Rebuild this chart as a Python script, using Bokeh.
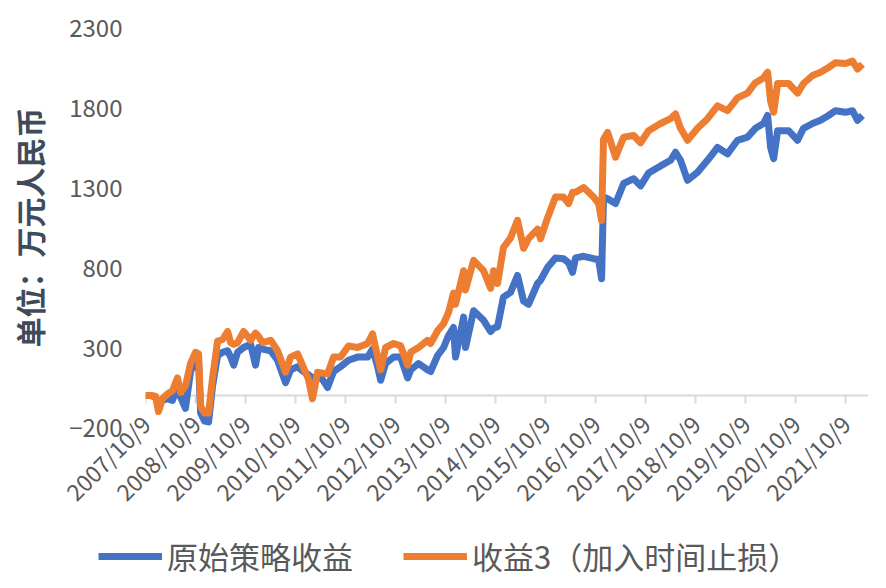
import pandas as pd
from math import pi
from bokeh.plotting import figure
from bokeh.layouts import column
from bokeh.models import (FixedTicker, CustomJSTickFormatter, Span, Legend,
                          LegendItem, ColumnDataSource, Range1d)
from bokeh.embed import file_html
from bokeh.resources import INLINE

dates = ["2007-10-09","2007-11-14","2007-12-21","2008-01-12","2008-02-10","2008-03-18","2008-04-23","2008-05-30","2008-06-21","2008-07-27","2008-09-02",
         "2008-10-09","2008-10-31","2008-11-15","2008-12-14","2009-01-12","2009-02-10","2009-03-19","2009-04-24","2009-05-31","2009-06-22","2009-07-14","2009-08-12","2009-09-25",
         "2009-11-15","2009-12-21","2010-01-12","2010-02-10","2010-04-10","2010-05-31","2010-07-28","2010-09-03",
         "2010-10-24","2010-12-06","2011-01-12","2011-02-10","2011-03-19","2011-04-24","2011-05-31","2011-07-14","2011-09-03",
         "2011-10-31","2012-01-05","2012-03-19","2012-04-24","2012-05-31","2012-06-22","2012-07-28","2012-09-25",
         "2012-11-15","2013-01-05","2013-01-27","2013-03-26","2013-05-31","2013-06-22","2013-08-12","2013-09-25",
         "2013-10-31","2013-12-06","2013-12-21","2014-02-18","2014-03-04","2014-05-02","2014-07-14","2014-09-03","2014-09-25",
         "2014-10-24","2014-12-06","2015-01-27","2015-03-19","2015-05-02","2015-06-07","2015-08-12","2015-09-03",
         "2015-10-24","2015-12-21","2016-02-18","2016-03-26","2016-04-24","2016-05-16","2016-07-14","2016-09-25",
         "2016-10-31","2016-11-22","2016-12-06","2017-01-05","2017-03-04","2017-05-02","2017-07-14","2017-09-03",
         "2017-10-31","2018-01-27","2018-04-10","2018-05-16","2018-06-22","2018-08-12",
         "2018-10-24","2019-01-05","2019-03-19","2019-05-31","2019-08-12",
         "2019-10-24","2019-12-21","2020-02-18","2020-03-19","2020-04-10","2020-05-02","2020-05-31","2020-08-19",
         "2020-10-24","2020-12-06","2021-02-10","2021-04-10","2021-06-07","2021-07-28",
         "2021-10-09","2021-11-29","2022-01-05","2022-02-10"]

original = [0, 0, -10, -60, -30, -20, -30, 60, -10, -80, 150,
            220, 200, -110, -160, -165, 60, 250, 270, 280, 240, 190, 270, 300,
            320, 190, 300, 290, 280, 220, 80, 160,
            180, 150, 130, 110, 120, 100, 50, 150, 180,
            220, 240, 240, 290, 180, 95, 200, 240,
            240, 110, 160, 200, 160, 150, 250, 300,
            375, 425, 240, 490, 300, 530, 470, 400, 420,
            430, 615, 645, 750, 590, 570, 700, 720,
            800, 860, 855, 830, 770, 860, 870, 855,
            850, 730, 1240, 1230, 1200, 1325, 1355, 1310,
            1390, 1435, 1470, 1520, 1470, 1345,
            1395, 1470, 1550, 1510, 1595,
            1615, 1670, 1700, 1750, 1550, 1480, 1655, 1655,
            1595, 1670, 1700, 1720, 1750, 1780,
            1770, 1780, 1720, 1750]

stoploss3 = [0, 0, -5, -100, -20, 10, 30, 110, 20, 60, 200,
             270, 260, -70, -110, -110, 110, 340, 350, 400, 330, 320, 330, 400,
             345, 390, 370, 330, 345, 280, 145, 240,
             260, 175, 100, -20, 145, 140, 135, 240, 240,
             310, 300, 325, 385, 240, 160, 300, 325,
             310, 190, 270, 300, 345, 325, 405, 450,
             520, 640, 570, 780, 660, 845, 780, 670, 780,
             700, 925, 985, 1095, 920, 980, 1040, 980,
             1110, 1240, 1240, 1200, 1270, 1270, 1300, 1240,
             1200, 1095, 1600, 1645, 1490, 1615, 1625, 1580,
             1655, 1700, 1730, 1760, 1670, 1595,
             1670, 1730, 1810, 1780, 1860,
             1890, 1955, 1985, 2020, 1840, 1770, 1950, 1950,
             1890, 1950, 2000, 2020, 2050, 2080,
             2075, 2090, 2040, 2070]

x_tick_dates = ["2007-10-09", "2008-10-09", "2009-10-09", "2010-10-09", "2011-10-09",
                "2012-10-09", "2013-10-09", "2014-10-09", "2015-10-09", "2016-10-09",
                "2017-10-09", "2018-10-09", "2019-10-09", "2020-10-09", "2021-10-09"]
y_ticks = [-200, 300, 800, 1300, 1800, 2300]
series_names = ["原始策略收益", "收益3（加入时间止损）"]
y_title = "单位：万元人民币"

BLUE = "#4472C4"
ORANGE = "#ED7D31"
TXT = "#595959"
FONT = "Noto Sans CJK SC"

src = ColumnDataSource(dict(x=pd.to_datetime(dates), a=original, b=stoploss3))
tick_ms = [pd.Timestamp(d).value / 1e6 for d in x_tick_dates]

p = figure(width=886, height=527, frame_width=723, frame_height=400,
           x_axis_type="datetime", output_backend="svg", toolbar_location=None,
           x_range=Range1d(pd.Timestamp("2007-10-09"), pd.Timestamp("2022-03-26")),
           y_range=Range1d(-200, 2300),
           min_border_left=145, min_border_right=18, min_border_top=27, min_border_bottom=100)
p.frame_align = False
p.outline_line_color = None
p.xgrid.grid_line_color = None
p.ygrid.grid_line_color = None
p.background_fill_color = "white"

# category axis line at zero with tick marks
p.add_layout(Span(location=0, dimension="width", line_color="#D9D9D9", line_width=2, level="underlay"))
p.segment(x0=pd.to_datetime(x_tick_dates), y0=[0]*len(x_tick_dates),
          x1=pd.to_datetime(x_tick_dates), y1=[-50]*len(x_tick_dates),
          line_color="#D9D9D9", line_width=2)

r1 = p.line("x", "a", source=src, line_color=BLUE, line_width=7, line_join="round")
r2 = p.line("x", "b", source=src, line_color=ORANGE, line_width=7, line_join="round")

xa = p.xaxis[0]
xa.ticker = FixedTicker(ticks=tick_ms)
xa.formatter = CustomJSTickFormatter(code="""
const d = new Date(tick);
return d.getUTCFullYear() + "/" + (d.getUTCMonth() + 1) + "/" + d.getUTCDate();
""")
xa.major_label_orientation = pi / 4
xa.axis_line_color = None
xa.major_tick_line_color = None
xa.minor_tick_line_color = None
xa.major_tick_out = 0
xa.major_tick_in = 0
xa.major_label_standoff = -8
xa.major_label_text_font = FONT
xa.major_label_text_font_size = "23px"
xa.major_label_text_color = TXT

ya = p.yaxis[0]
ya.ticker = FixedTicker(ticks=y_ticks)
ya.axis_line_color = None
ya.major_tick_line_color = None
ya.minor_tick_line_color = None
ya.major_tick_out = 0
ya.major_tick_in = 0
ya.major_label_standoff = 23
ya.major_label_text_font = FONT
ya.major_label_text_font_size = "24px"
ya.major_label_text_color = TXT
ya.axis_label = y_title
ya.axis_label_text_font = FONT
ya.axis_label_text_font_size = "30px"
ya.axis_label_text_font_style = "bold"
ya.axis_label_text_color = "#404B5A"
ya.axis_label_standoff = 15

# legend strip underneath the chart
q = figure(width=886, height=61, output_backend="svg", toolbar_location=None,
           min_border_left=0, min_border_right=0, min_border_top=0, min_border_bottom=0,
           x_axis_location=None, y_axis_location=None)
q.frame_align = False
q.outline_line_color = None
q.xgrid.grid_line_color = None
q.ygrid.grid_line_color = None
l1 = q.line("x", "a", source=src, line_color=BLUE, line_width=7, visible=False)
l2 = q.line("x", "b", source=src, line_color=ORANGE, line_width=7, visible=False)

legend = Legend(items=[LegendItem(label=series_names[0], renderers=[l1]),
                       LegendItem(label=series_names[1], renderers=[l2])],
                orientation="horizontal", location=(98, 10),
                glyph_width=64, glyph_height=8, label_standoff=5, spacing=50,
                padding=0, margin=0, border_line_color=None, background_fill_alpha=0,
                inactive_fill_alpha=0,
                label_text_font=FONT, label_text_font_size="31px", label_text_color=TXT)
q.add_layout(legend, "center")

layout = column(p, q, spacing=0)
open("out.html", "w").write(file_html(layout, INLINE))
